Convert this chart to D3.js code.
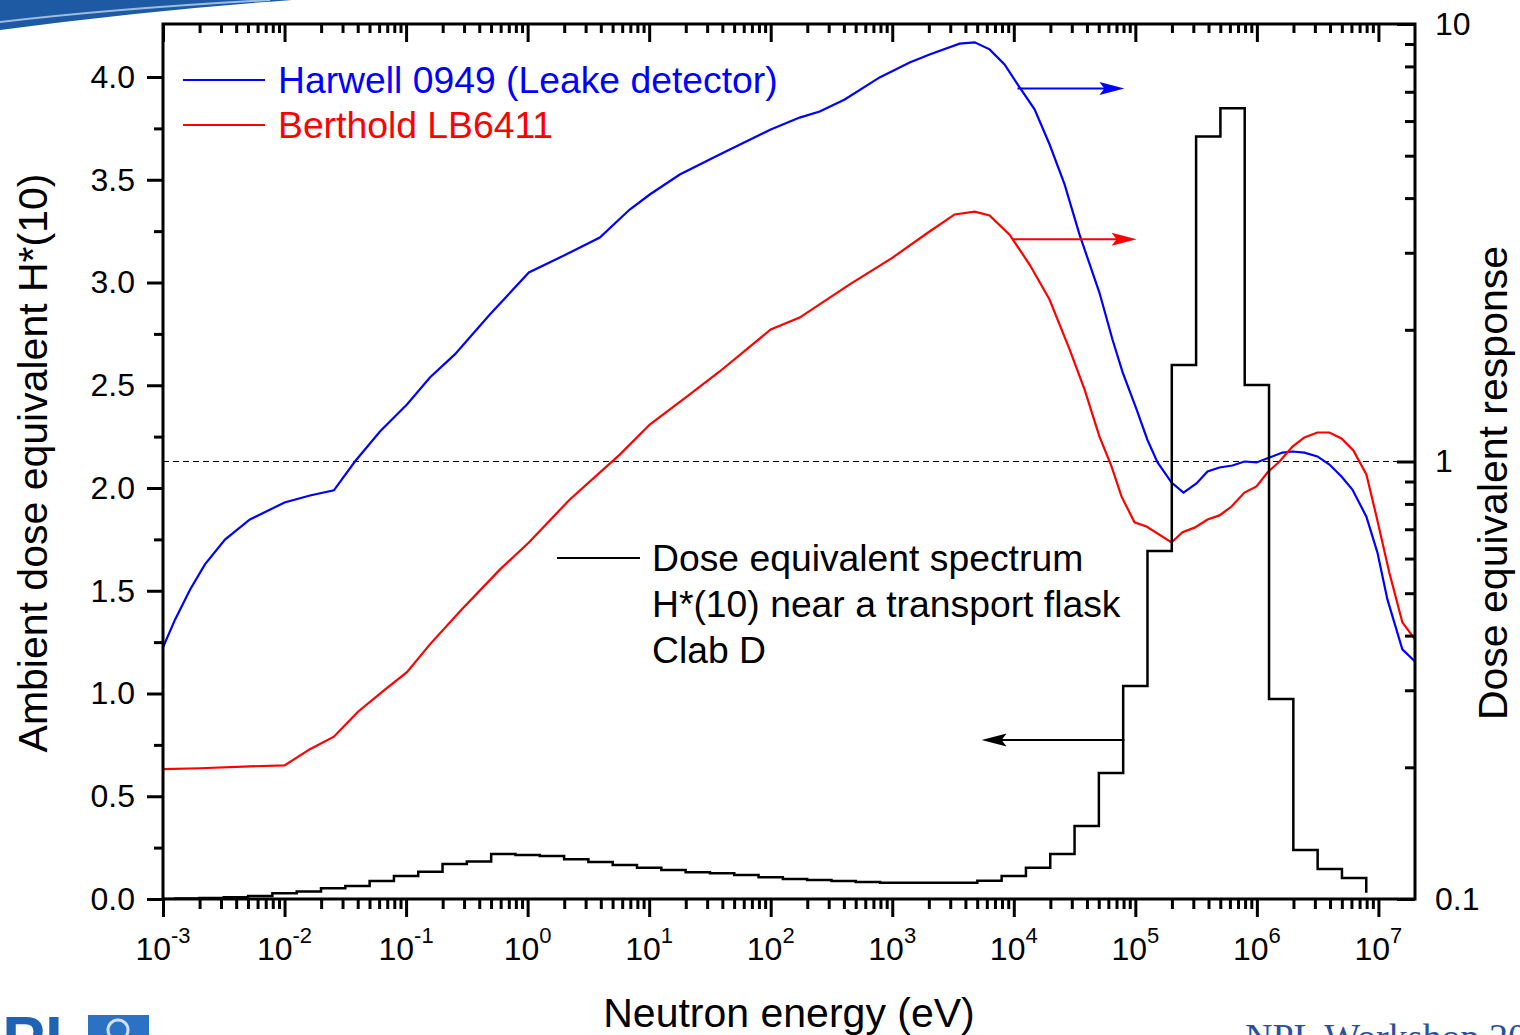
<!DOCTYPE html>
<html>
<head>
<meta charset="utf-8">
<script src="https://cdn.jsdelivr.net/npm/d3@7"></script>
<style>
  body { margin: 0; background: #fff; }
  svg { display: block; font-family: "Liberation Sans", Arial, sans-serif; }
</style>
</head>
<body>
<div id="viz"></div>
<script>
// ---- data (energies as log10(E/eV)) ----
var blueLogE = [-3, -2.901, -2.778, -2.655, -2.49, -2.285, -2.0, -1.791, -1.594, -1.421, -1.215, -0.993, -0.804, -0.599, -0.311, 0.01, 0.265, 0.594, 0.84, 1.005, 1.252, 1.58, 2.0, 2.238, 2.403, 2.609, 2.896, 3.143, 3.307, 3.554, 3.678, 3.801, 3.924, 4.048, 4.171, 4.294, 4.418, 4.541, 4.705, 4.812, 4.895, 5.01, 5.1, 5.183, 5.298, 5.396, 5.503, 5.594, 5.692, 5.799, 5.898, 5.997, 6.104, 6.21, 6.293, 6.391, 6.498, 6.597, 6.696, 6.786, 6.901, 6.992, 7.074, 7.197, 7.301];
var blueResp = [0.376, 0.435, 0.509, 0.582, 0.663, 0.737, 0.806, 0.836, 0.859, 1.0, 1.171, 1.35, 1.556, 1.757, 2.168, 2.704, 2.925, 3.25, 3.767, 4.076, 4.528, 5.03, 5.74, 6.11, 6.31, 6.72, 7.55, 8.17, 8.52, 9.02, 9.08, 8.75, 8.08, 7.16, 6.38, 5.31, 4.30, 3.30, 2.43, 1.90, 1.60, 1.315, 1.12, 0.995, 0.895, 0.849, 0.891, 0.949, 0.969, 0.979, 1.0, 0.995, 1.021, 1.048, 1.054, 1.048, 1.027, 0.984, 0.924, 0.863, 0.748, 0.619, 0.484, 0.372, 0.349];

var redLogE = [-3, -2.696, -2.285, -2.0, -1.791, -1.594, -1.396, -1.174, -0.993, -0.804, -0.558, -0.229, 0.01, 0.347, 0.758, 1.005, 1.334, 1.58, 2.0, 2.238, 2.65, 3.003, 3.307, 3.513, 3.678, 3.801, 3.965, 4.13, 4.294, 4.459, 4.582, 4.705, 4.804, 4.886, 4.993, 5.092, 5.298, 5.388, 5.487, 5.594, 5.692, 5.791, 5.898, 5.997, 6.087, 6.186, 6.293, 6.391, 6.498, 6.597, 6.696, 6.794, 6.901, 6.984, 7.09, 7.197, 7.301];
var redResp = [0.198, 0.199, 0.201, 0.202, 0.22, 0.235, 0.268, 0.301, 0.330, 0.382, 0.454, 0.566, 0.653, 0.819, 1.037, 1.215, 1.423, 1.606, 2.003, 2.133, 2.54, 2.925, 3.355, 3.67, 3.725, 3.65, 3.30, 2.82, 2.345, 1.804, 1.461, 1.14, 0.975, 0.832, 0.726, 0.71, 0.653, 0.689, 0.706, 0.737, 0.753, 0.789, 0.849, 0.877, 0.944, 1.0, 1.082, 1.135, 1.165, 1.165, 1.129, 1.06, 0.934, 0.749, 0.557, 0.429, 0.392];

// histogram: lower bin edges (log10 E) and H*(10) per bin
var histEdges = [-3.0, -2.9, -2.7, -2.5, -2.3, -2.1, -1.9, -1.7, -1.5, -1.3, -1.1, -0.9, -0.7, -0.5, -0.3, -0.1, 0.1, 0.3, 0.5, 0.7, 0.9, 1.1, 1.3, 1.5, 1.7, 1.9, 2.1, 2.3, 2.5, 2.7, 2.9, 3.1, 3.3, 3.5, 3.7, 3.9, 4.1, 4.3, 4.5, 4.7, 4.9, 5.1, 5.3, 5.5, 5.7, 5.9, 6.1, 6.3, 6.5, 6.7, 6.9];
var histValues = [0.0, 0.002, 0.005, 0.008, 0.015, 0.028, 0.036, 0.052, 0.063, 0.088, 0.112, 0.133, 0.170, 0.183, 0.219, 0.214, 0.209, 0.193, 0.180, 0.165, 0.152, 0.141, 0.130, 0.125, 0.117, 0.106, 0.097, 0.092, 0.088, 0.083, 0.079, 0.079, 0.079, 0.079, 0.089, 0.112, 0.152, 0.219, 0.355, 0.613, 1.036, 1.693, 2.599, 3.71, 3.848, 2.501, 0.973, 0.238, 0.146, 0.102, 0.03];

var xMajor = [-3, -2, -1, 0, 1, 2, 3, 4, 5, 6, 7];
var yLeftTicks = [0, 0.5, 1.0, 1.5, 2.0, 2.5, 3.0, 3.5, 4.0];
var yLeftMinor = [0.25, 0.75, 1.25, 1.75, 2.25, 2.75, 3.25, 3.75];
var yRightMajor = [0.1, 1, 10];
var yRightMinor = [0.2, 0.3, 0.4, 0.5, 0.6, 0.7, 0.8, 0.9, 2, 3, 4, 5, 6, 7, 8, 9];

var legendNames = ["Harwell 0949 (Leake detector)", "Berthold LB6411"];
var spectrumLabel = ["Dose equivalent spectrum", "H*(10) near a transport flask", "Clab D"];

// ---- setup ----
var W = 1520, H = 1035;
var L = 163, R = 1415, T = 24, B = 899;

var svg = d3.select("#viz").append("svg")
    .attr("width", W)
    .attr("height", H);

var x = d3.scaleLog().domain([1e-3, 2e7]).range([L, R]);
var yL = d3.scaleLinear().domain([0, 4.258]).range([B, T]);
var yR = d3.scaleLog().domain([0.1, 10]).range([B, T]);

var xMinor = [];
for (var k = -3; k < 7; k++) {
    for (var m = 2; m <= 9; m++) xMinor.push(m * Math.pow(10, k));
}
var xMajorVals = xMajor.map(function(e){ return Math.pow(10, e); });

// ---- slide decorations ----
svg.append("path")
    .attr("d", "M0,0 L292,0 Q150,10 0,30 Z")
    .attr("fill", "#1d5aa3");
svg.append("path")
    .attr("d", "M0,22 Q120,8 270,0")
    .attr("fill", "none")
    .attr("stroke", "#9fbbe0")
    .attr("stroke-width", 2);
svg.append("text")
    .attr("x", -44).attr("y", 1062)
    .attr("font-size", 64).attr("font-weight", "bold")
    .attr("fill", "#1f63b5")
    .text("NPL");
svg.append("rect")
    .attr("x", 88).attr("y", 1015).attr("width", 61).attr("height", 30)
    .attr("fill", "#2b72c4");
svg.append("circle")
    .attr("cx", 118).attr("cy", 1030).attr("r", 10)
    .attr("fill", "none").attr("stroke", "#cfe0f5").attr("stroke-width", 3);
svg.append("text")
    .attr("x", 1245).attr("y", 1050)
    .attr("font-family", "'Liberation Serif', 'DejaVu Serif', serif")
    .attr("font-size", 38)
    .attr("fill", "#2a4f9e")
    .text("NPL Workshop 2009");

// ---- reference line at response 1 ----
svg.append("line")
    .attr("x1", L).attr("x2", R)
    .attr("y1", yR(1)).attr("y2", yR(1))
    .attr("stroke", "#000").attr("stroke-width", 1.2)
    .attr("stroke-dasharray", "6,4");

// ---- curves ----
svg.append("clipPath").attr("id", "plotclip")
    .append("rect").attr("x", L).attr("y", T).attr("width", R - L).attr("height", B - T);

var plot = svg.append("g").attr("clip-path", "url(#plotclip)");

var respLine = d3.line()
    .x(function(d){ return x(Math.pow(10, d[0])); })
    .y(function(d){ return yR(d[1]); });

plot.append("path")
    .datum(d3.zip(blueLogE, blueResp))
    .attr("d", respLine)
    .attr("fill", "none").attr("stroke", "#0000ff").attr("stroke-width", 2.2);

plot.append("path")
    .datum(d3.zip(redLogE, redResp))
    .attr("d", respLine)
    .attr("fill", "none").attr("stroke", "#ff0000").attr("stroke-width", 2.2);

var histLine = d3.line()
    .curve(d3.curveStepAfter)
    .x(function(d){ return x(Math.pow(10, d[0])); })
    .y(function(d){ return yL(d[1]); });

plot.append("path")
    .datum(d3.zip(histEdges, histValues))
    .attr("d", histLine)
    .attr("fill", "none").attr("stroke", "#000").attr("stroke-width", 2.5);

// ---- axes ----
function styleAxis(g) {
    g.select(".domain").remove();
    g.selectAll("line").attr("stroke", "#000").attr("stroke-width", 3);
    g.selectAll("text").attr("fill", "#000").attr("font-size", 32)
        .attr("font-family", "'Liberation Sans', Arial, sans-serif");
}

// bottom
svg.append("g").attr("transform", "translate(0," + B + ")")
    .call(d3.axisBottom(x).tickValues(xMajorVals).tickSize(18).tickFormat(""))
    .call(styleAxis);
svg.append("g").attr("transform", "translate(0," + B + ")")
    .call(d3.axisBottom(x).tickValues(xMinor).tickSize(10).tickFormat(""))
    .call(styleAxis);
// top (ticks point inward)
svg.append("g").attr("transform", "translate(0," + T + ")")
    .call(d3.axisBottom(x).tickValues(xMajorVals).tickSize(18).tickFormat(""))
    .call(styleAxis);
svg.append("g").attr("transform", "translate(0," + T + ")")
    .call(d3.axisBottom(x).tickValues(xMinor).tickSize(9).tickFormat(""))
    .call(styleAxis);

// bottom labels 10^n
var xl = svg.append("g").selectAll("text")
    .data(xMajor)
    .enter()
    .append("text")
    .attr("x", function(d){ return x(Math.pow(10, d)); })
    .attr("y", 960)
    .attr("text-anchor", "middle")
    .attr("font-size", 32);
xl.append("tspan").text("10");
xl.append("tspan").attr("dy", -17).attr("font-size", 22).text(function(d){ return d; });

// left
svg.append("g").attr("transform", "translate(" + L + ",0)")
    .call(d3.axisLeft(yL).tickValues(yLeftTicks).tickSize(16).tickPadding(12)
        .tickFormat(d3.format(".1f")))
    .call(styleAxis);
svg.append("g").attr("transform", "translate(" + L + ",0)")
    .call(d3.axisLeft(yL).tickValues(yLeftMinor).tickSize(9).tickFormat(""))
    .call(styleAxis);

// right (ticks inward)
svg.append("g").attr("transform", "translate(" + R + ",0)")
    .call(d3.axisRight(yR).tickValues(yRightMajor).tickSizeInner(-18).tickSizeOuter(0).tickPadding(20)
        .tickFormat(function(d){ return d < 1 ? "0.1" : String(d); }))
    .call(styleAxis);
svg.append("g").attr("transform", "translate(" + R + ",0)")
    .call(d3.axisRight(yR).tickValues(yRightMinor).tickSizeInner(-10).tickSizeOuter(0).tickFormat(""))
    .call(styleAxis);

// frame
svg.append("rect")
    .attr("x", L).attr("y", T).attr("width", R - L).attr("height", B - T)
    .attr("fill", "none").attr("stroke", "#000").attr("stroke-width", 3);

// axis titles
svg.append("text")
    .attr("transform", "translate(47," + 463 + ") rotate(-90)")
    .attr("text-anchor", "middle").attr("font-size", 41)
    .text("Ambient dose equivalent H*(10)");
svg.append("text")
    .attr("transform", "translate(1507," + 483 + ") rotate(-90)")
    .attr("text-anchor", "middle").attr("font-size", 41)
    .text("Dose equivalent response");
svg.append("text")
    .attr("x", 789).attr("y", 1027)
    .attr("text-anchor", "middle").attr("font-size", 41)
    .text("Neutron energy (eV)");

// ---- legend ----
var legendColors = ["#0000ff", "#ff0000"];
var lg = svg.append("g").selectAll("g")
    .data(legendNames)
    .enter()
    .append("g")
    .attr("transform", function(d, i){ return "translate(183," + (80 + i * 45) + ")"; });
lg.append("line")
    .attr("x1", 0).attr("x2", 82)
    .attr("stroke", function(d, i){ return legendColors[i]; })
    .attr("stroke-width", 2);
lg.append("text")
    .attr("x", 95).attr("y", 13)
    .attr("font-size", 37.3)
    .attr("fill", function(d, i){ return legendColors[i]; })
    .text(function(d){ return d; });

// spectrum label
svg.append("line")
    .attr("x1", 557).attr("x2", 640).attr("y1", 558).attr("y2", 558)
    .attr("stroke", "#000").attr("stroke-width", 2);
svg.append("g").selectAll("text")
    .data(spectrumLabel)
    .enter()
    .append("text")
    .attr("x", 652)
    .attr("y", function(d, i){ return 571 + i * 46; })
    .attr("font-size", 37.3)
    .text(function(d){ return d; });

// ---- arrows (in data coordinates) ----
function arrow(e0, e1, yv, color) {
    var x0 = x(Math.pow(10, e0)), x1 = x(Math.pow(10, e1));
    var dir = x1 > x0 ? 1 : -1;
    var head = 25;
    svg.append("line")
        .attr("x1", x0).attr("x2", x1 - dir * head * 0.5)
        .attr("y1", yv).attr("y2", yv)
        .attr("stroke", color).attr("stroke-width", 2);
    svg.append("path")
        .attr("d", "M" + x1 + "," + yv +
            " L" + (x1 - dir * head) + "," + (yv - 6.5) +
            " L" + (x1 - dir * head * 0.8) + "," + yv +
            " L" + (x1 - dir * head) + "," + (yv + 6.5) + " Z")
        .attr("fill", color);
}
arrow(4.03, 4.91, yR(7.12), "#0000ff");
arrow(3.99, 5.01, yR(3.22), "#ff0000");
arrow(4.91, 3.735, yL(0.774), "#000");
</script>
</body>
</html>
